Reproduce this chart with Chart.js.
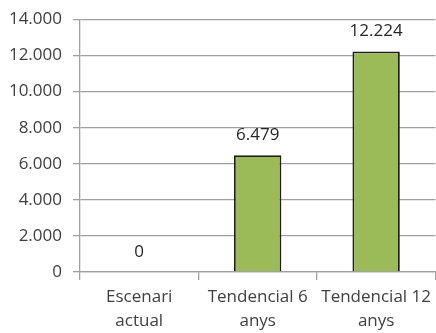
<!DOCTYPE html>
<html>
<head>
<meta charset="utf-8">
<script src="https://cdn.jsdelivr.net/npm/chart.js@4/dist/chart.umd.min.js"></script>
<style>
html, body { margin: 0; padding: 0; background: #fff; overflow: hidden; }
#wrap { position: absolute; left: 0; top: 0; width: 436px; height: 333px; }
</style>
</head>
<body>
<div id="wrap"><canvas id="grafic"></canvas></div>
<script>
const categories = [['Escenari', 'actual'], ['Tendencial 6', 'anys'], ['Tendencial 12', 'anys']];
const values = [0, 6479, 12224];
const yTicks = [0, 2000, 4000, 6000, 8000, 10000, 12000, 14000];

const fmt = function (v) {
    return v.toLocaleString('de-DE');
};

// value labels over each bar
const etiquetes = {
    id: 'etiquetes',
    afterDatasetsDraw(chart) {
        const ctx = chart.ctx;
        const meta = chart.getDatasetMeta(0);
        ctx.save();
        ctx.font = '17px "Open Sans"';
        ctx.fillStyle = '#262626';
        ctx.textAlign = 'center';
        ctx.textBaseline = 'middle';
        meta.data.forEach(function (bar, i) {
            ctx.fillText(fmt(values[i]), bar.x, bar.y - 20);
        });
        ctx.restore();
    }
};

new Chart(document.getElementById('grafic'), {
    type: 'bar',
    data: {
        labels: categories,
        datasets: [{
            data: values,
            backgroundColor: '#9BBB59',
            borderColor: '#1e1e1e',
            borderWidth: 1.8,
            barPercentage: 0.4,
            categoryPercentage: 1
        }]
    },
    options: {
        responsive: true,
        maintainAspectRatio: false,
        animation: false,
        layout: { padding: { top: 6, right: 0, bottom: 0, left: 0 } },
        plugins: {
            legend: { display: false },
            tooltip: { enabled: false }
        },
        scales: {
            x: {
                grid: {
                    drawOnChartArea: false,
                    drawTicks: true,
                    tickLength: 8,
                    color: '#a0a0a0',
                    lineWidth: 1.3
                },
                border: { color: '#a0a0a0', width: 1.3 },
                ticks: {
                    color: '#404040',
                    padding: 5,
                    maxRotation: 0,
                    autoSkip: false,
                    font: { family: 'Open Sans', size: 17, lineHeight: 1.42 }
                },
                afterFit(scale) { scale.height = 61; }
            },
            y: {
                min: 0,
                max: 14000,
                afterBuildTicks(scale) {
                    scale.ticks = yTicks.map(function (v) { return { value: v }; });
                },
                grid: {
                    color: '#a0a0a0',
                    lineWidth: 1.3,
                    tickLength: 7
                },
                border: { color: '#a0a0a0', width: 1.3 },
                ticks: {
                    color: '#404040',
                    padding: 11,
                    font: { family: 'Open Sans', size: 17, lineHeight: 1 },
                    callback: function (v) { return fmt(v); }
                },
                afterFit(scale) { scale.width = 80; }
            }
        }
    },
    plugins: [etiquetes]
});
</script>
</body>
</html>
